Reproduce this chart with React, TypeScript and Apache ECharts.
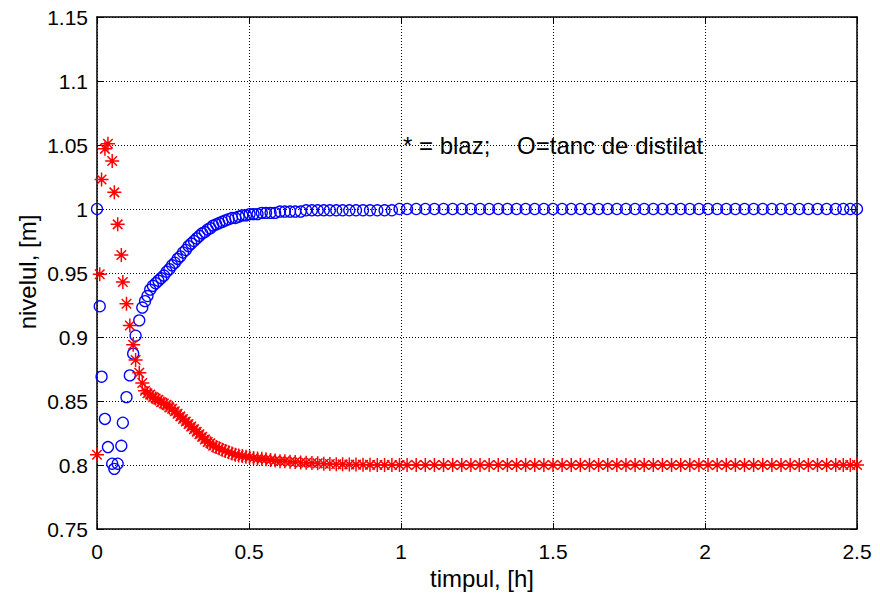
import React, { useEffect, useRef } from "react";
import * as echarts from "echarts";

// time vector [h] (shared by both series)
const timpul: number[] = [
  0, 0.009, 0.015, 0.026, 0.036, 0.05, 0.057, 0.068, 0.08, 0.085,
  0.097, 0.108, 0.119, 0.127, 0.139, 0.149, 0.158, 0.166, 0.175, 0.184,
  0.193, 0.202, 0.211, 0.22, 0.229, 0.238, 0.247, 0.256, 0.265, 0.274,
  0.283, 0.292, 0.301, 0.31, 0.319, 0.328, 0.337, 0.346, 0.355, 0.364,
  0.373, 0.382, 0.392, 0.402, 0.412, 0.422, 0.433, 0.444, 0.455, 0.466,
  0.478, 0.49, 0.502, 0.515, 0.528, 0.542, 0.556, 0.571, 0.586, 0.602,
  0.618, 0.635, 0.652, 0.67, 0.688, 0.707, 0.726, 0.746, 0.766, 0.787,
  0.808, 0.83, 0.852, 0.875, 0.898, 0.922, 0.946, 0.97, 0.995, 1.02,
  1.05, 1.08, 1.11, 1.14, 1.17, 1.2, 1.23, 1.26, 1.29, 1.32,
  1.35, 1.38, 1.41, 1.44, 1.47, 1.5, 1.53, 1.56, 1.59, 1.62,
  1.65, 1.68, 1.71, 1.74, 1.77, 1.8, 1.83, 1.86, 1.89, 1.92,
  1.95, 1.98, 2.01, 2.04, 2.07, 2.1, 2.13, 2.16, 2.19, 2.22,
  2.25, 2.28, 2.31, 2.34, 2.37, 2.4, 2.43, 2.455, 2.478, 2.5,
];

// O = tanc de distilat
const distilat: number[] = [
  1.0, 0.924, 0.869, 0.836, 0.814, 0.801, 0.797, 0.801, 0.815, 0.833,
  0.853, 0.87, 0.887, 0.901, 0.913, 0.923, 0.928, 0.932, 0.937, 0.94,
  0.942, 0.944, 0.946, 0.948, 0.951, 0.953, 0.956, 0.958, 0.961, 0.963,
  0.966, 0.968, 0.971, 0.973, 0.975, 0.977, 0.979, 0.981, 0.982, 0.984,
  0.985, 0.987, 0.988, 0.989, 0.99, 0.991, 0.992, 0.993, 0.993, 0.994,
  0.995, 0.995, 0.996, 0.996, 0.996, 0.997, 0.997, 0.997, 0.997, 0.998,
  0.998, 0.998, 0.998, 0.998, 0.999, 0.999, 0.999, 0.999, 0.999, 0.999,
  0.999, 0.999, 0.999, 0.999, 0.999, 0.999, 0.999, 0.999, 1, 1,
  1, 1, 1, 1, 1, 1, 1, 1, 1, 1,
  1, 1, 1, 1, 1, 1, 1, 1, 1, 1,
  1, 1, 1, 1, 1, 1, 1, 1, 1, 1,
  1, 1, 1, 1, 1, 1, 1, 1, 1, 1,
  1, 1, 1, 1, 1, 1, 1, 1, 1, 1,
];

// * = blaz
const blaz: number[] = [
  0.808, 0.949, 1.023, 1.047, 1.051, 1.0375, 1.013, 0.988, 0.964, 0.943,
  0.926, 0.909, 0.894, 0.882, 0.872, 0.864, 0.858, 0.856, 0.855, 0.853,
  0.852, 0.851, 0.849, 0.848, 0.847, 0.845, 0.844, 0.842, 0.84, 0.838,
  0.836, 0.834, 0.832, 0.83, 0.828, 0.826, 0.824, 0.822, 0.82, 0.818,
  0.817, 0.815, 0.814, 0.813, 0.812, 0.811, 0.81, 0.809, 0.808, 0.8075,
  0.807, 0.8065, 0.806, 0.8055, 0.805, 0.8048, 0.8045, 0.804, 0.8035, 0.803,
  0.803, 0.8026, 0.8023, 0.802, 0.8018, 0.8015, 0.8013, 0.801, 0.8008, 0.8006,
  0.8005, 0.8004, 0.8003, 0.8002, 0.8001, 0.8, 0.8, 0.8, 0.8, 0.8,
  0.8, 0.8, 0.8, 0.8, 0.8, 0.8, 0.8, 0.8, 0.8, 0.8,
  0.8, 0.8, 0.8, 0.8, 0.8, 0.8, 0.8, 0.8, 0.8, 0.8,
  0.8, 0.8, 0.8, 0.8, 0.8, 0.8, 0.8, 0.8, 0.8, 0.8,
  0.8, 0.8, 0.8, 0.8, 0.8, 0.8, 0.8, 0.8, 0.8, 0.8,
  0.8, 0.8, 0.8, 0.8, 0.8, 0.8, 0.8, 0.8, 0.8, 0.8,
];

const xTicks = { min: 0, max: 2.5, interval: 0.5 };
const yTicks = { min: 0.75, max: 1.15, interval: 0.05 };

const xLabel = "timpul, [h]";
const yLabel = "nivelul, [m]";
const note = "* = blaz;    O=tanc de distilat";

const FONT = "'Liberation Sans', Arial, Helvetica, sans-serif";
const STAR =
  "path://M5,0L5,10M0,5L10,5M1.6,1.6L8.4,8.4M1.6,8.4L8.4,1.6";

export default function App() {
  const ref = useRef<HTMLDivElement>(null);

  useEffect(() => {
    if (!ref.current) return;
    const chart = echarts.init(ref.current, undefined, { renderer: "svg" });

    const fmt = (v: number) => String(+v.toFixed(2));
    const axisLine = { show: true, onZero: false, lineStyle: { color: "#000", width: 1.5 } };
    const tick = { show: true, inside: true, length: 6, lineStyle: { color: "#000", width: 1 } };
    const split = { show: true, lineStyle: { color: "#000", width: 1, type: [1, 2] as any } };
    const label = { color: "#000", fontFamily: FONT, fontSize: 21 };

    chart.setOption({
      animation: false,
      backgroundColor: "#fff",
      grid: { left: 97, top: 17, width: 760, height: 512, containLabel: false },
      xAxis: [
        {
          type: "value", position: "bottom", ...xTicks,
          axisLine, axisTick: tick, splitLine: split,
          axisLabel: { ...label, margin: 12, formatter: fmt },
        },
        {
          type: "value", position: "top", ...xTicks,
          axisLine, axisTick: tick, splitLine: { show: false },
          axisLabel: { show: false },
        },
      ],
      yAxis: [
        {
          type: "value", position: "left", ...yTicks,
          axisLine, axisTick: tick, splitLine: split,
          axisLabel: { ...label, margin: 9, formatter: fmt },
        },
        {
          type: "value", position: "right", ...yTicks,
          axisLine, axisTick: tick, splitLine: { show: false },
          axisLabel: { show: false },
        },
      ],
      series: [
        {
          type: "scatter",
          name: "tanc de distilat",
          clip: false,
          symbol: "circle",
          symbolSize: 11,
          itemStyle: { color: "rgba(0,0,0,0)", borderColor: "#0000ff", borderWidth: 1.3, opacity: 1 },
          data: timpul.map((t, i) => [t, distilat[i]]),
        },
        {
          type: "scatter",
          name: "blaz",
          clip: false,
          symbol: STAR,
          symbolSize: 14,
          itemStyle: { color: "#ff0000", borderColor: "#ff0000", borderWidth: 1.5, opacity: 1 },
          data: timpul.map((t, i) => [t, blaz[i]]),
        },
      ],
      graphic: [
        {
          type: "text", x: 403, y: 145,
          style: { text: note, fill: "#000", font: `24px ${FONT}`, textAlign: "left", textVerticalAlign: "middle" },
        },
        {
          type: "text", x: 482, y: 578,
          style: { text: xLabel, fill: "#000", font: `24px ${FONT}`, textAlign: "center", textVerticalAlign: "middle" },
        },
        {
          type: "text", x: 27, y: 272, rotation: Math.PI / 2,
          style: { text: yLabel, fill: "#000", font: `24px ${FONT}`, textAlign: "center", textVerticalAlign: "middle" },
        },
      ],
    });

    return () => chart.dispose();
  }, []);

  return (
    <div
      ref={ref}
      style={{ position: "absolute", left: 0, top: 0, width: 880, height: 601, background: "#fff" }}
    />
  );
}
